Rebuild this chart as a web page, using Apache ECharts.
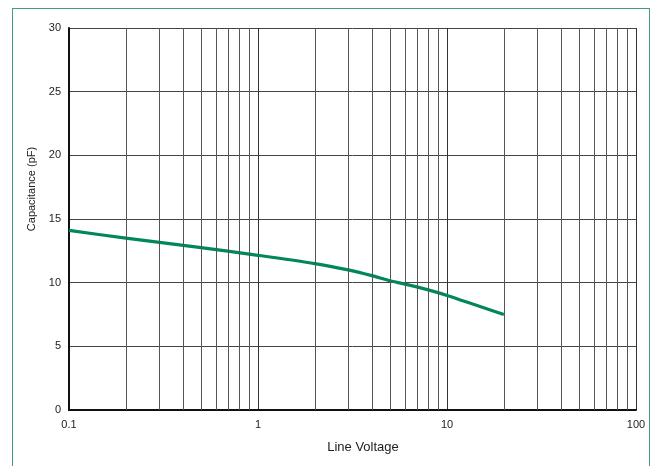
<!DOCTYPE html>
<html>
<head>
<meta charset="utf-8">
<script src="https://cdn.jsdelivr.net/npm/echarts@6/dist/echarts.min.js"></script>
<style>
  html, body { margin: 0; padding: 0; background: #fff; }
  #frame {
    position: absolute; left: 12px; top: 8px; width: 636px; height: 480px;
    border: 1.5px solid #3f9f73;
  }
  #chart { position: absolute; left: 0; top: 0; width: 662px; height: 466px; }
</style>
</head>
<body>
<div id="frame"></div>
<div id="chart"></div>
<script>
// line voltage (V) vs capacitance (pF)
const voltage = [0.1, 0.2, 0.5, 1, 2, 3, 4, 5, 7, 10, 20]
const capacitance = [14.1, 13.5, 12.75, 12.15, 11.5, 11.0, 10.55, 10.15, 9.65, 9.0, 7.5]

// minor vertical grid lines (2..9 in each decade)
const minorGrid = [
  0.2, 0.3, 0.4, 0.5, 0.6, 0.7, 0.8, 0.9,
  2, 3, 4, 5, 6, 7, 8, 9,
  20, 30, 40, 50, 60, 70, 80, 90
]

const font = '"Liberation Sans", Arial, sans-serif'

const chart = echarts.init(document.getElementById('chart'))
chart.setOption({
  animation: false,
  grid: {
    left: 69,
    right: 26,
    top: 28,
    bottom: 56
  },
  // axis titles sit a little off-centre in the original
  graphic: [
    {
      type: 'text',
      x: 363,
      y: 447,
      style: {
        text: 'Line Voltage',
        fill: '#222',
        font: '13px ' + font,
        align: 'center',
        verticalAlign: 'middle'
      }
    },
    {
      type: 'text',
      x: 32,
      y: 189,
      rotation: Math.PI / 2,
      style: {
        text: 'Capacitance (pF)',
        fill: '#222',
        font: '11px ' + font,
        align: 'center',
        verticalAlign: 'middle'
      }
    }
  ],
  xAxis: {
    type: 'log',
    logBase: 10,
    min: 0.1,
    max: 100,
    axisLine: { lineStyle: { color: '#111', width: 2 } },
    axisTick: { show: false },
    axisLabel: {
      color: '#222',
      fontSize: 11,
      fontFamily: font,
      margin: 9,
      formatter: v => String(+v.toPrecision(3))
    },
    splitLine: { show: true, lineStyle: { color: '#333', width: 1 } }
  },
  yAxis: {
    type: 'value',
    min: 0,
    max: 30,
    interval: 5,
    axisLine: { show: true, lineStyle: { color: '#111', width: 2 } },
    axisTick: { show: false },
    axisLabel: { color: '#222', fontSize: 11, fontFamily: font, margin: 8 },
    splitLine: { show: true, lineStyle: { color: '#444', width: 1 } }
  },
  series: [{
    type: 'line',
    data: voltage.map((v, i) => [v, capacitance[i]]),
    smooth: 0.2,
    symbol: 'none',
    lineStyle: { color: '#00875a', width: 3.2 },
    markLine: {
      silent: true,
      symbol: 'none',
      label: { show: false },
      lineStyle: { color: '#555', width: 1, type: 'solid' },
      data: minorGrid.map(v => ({ xAxis: v }))
    },
    z: 3
  }]
})
</script>
</body>
</html>
